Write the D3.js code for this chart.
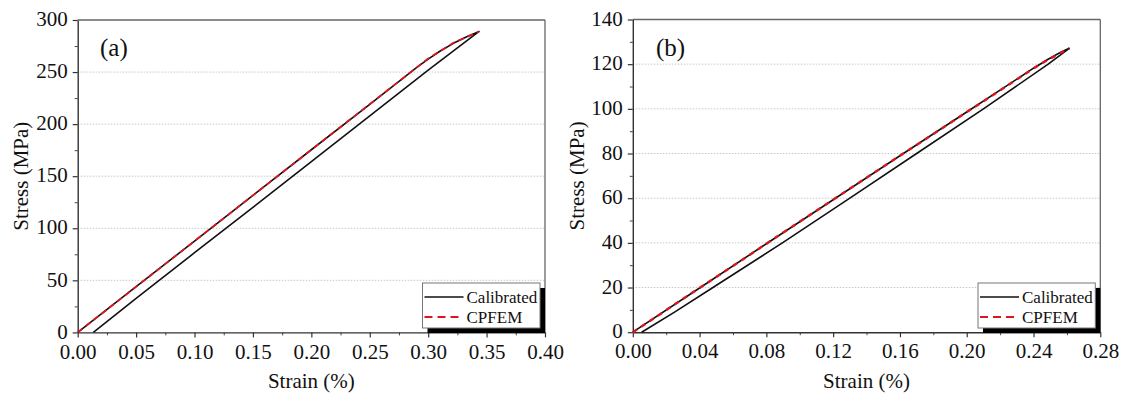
<!DOCTYPE html>
<html>
<head>
<meta charset="utf-8">
<script src="https://cdn.jsdelivr.net/npm/d3@7"></script>
<style>
  html, body { margin: 0; padding: 0; background: #fff; }
  svg { display: block; }
  svg text { font-family: "Liberation Serif", "Times New Roman", serif !important; fill: #111; }
</style>
</head>
<body>
<svg id="chart" width="1123" height="396"></svg>
<script>
// ---------- data ----------
const seriesNames = ["Calibrated", "CPFEM"];
const panelLabels = ["(a)", "(b)"];
const xTicksA = [0, 0.05, 0.10, 0.15, 0.20, 0.25, 0.30, 0.35, 0.40];
const yTicksA = [0, 50, 100, 150, 200, 250, 300];
const xTicksB = [0, 0.04, 0.08, 0.12, 0.16, 0.20, 0.24, 0.28];
const yTicksB = [0, 20, 40, 60, 80, 100, 120, 140];

// Panel (a): strain (%), stress (MPa)
const calibratedA = [
  [0, 0], [0.05, 43.9], [0.10, 87.7], [0.15, 131.6], [0.20, 175.4], [0.25, 219],
  [0.29, 254.3], [0.30, 262.5], [0.31, 270], [0.3216, 277.6], [0.333, 284], [0.3436, 289],
  [0.30, 251.9], [0.25, 208], [0.20, 164], [0.15, 120], [0.10, 76.5], [0.05, 32.6], [0.0134, 0]
];
const cpfemA = [
  [0, 0], [0.10, 87.7], [0.20, 175.4], [0.30, 263], [0.3216, 278], [0.3436, 289]
];

// Panel (b)
const calibratedB = [
  [0, 0], [0.04, 19.8], [0.08, 39.6], [0.12, 59.3], [0.16, 79], [0.20, 98.6], [0.24, 118.2],
  [0.249, 122.3], [0.256, 125.2], [0.2614, 127.1],
  [0.2488, 120], [0.21, 100], [0.170, 80], [0.130, 60], [0.0896, 40], [0.048, 20], [0.025, 9], [0.0053, 0]
];
const cpfemB = [
  [0, 0], [0.08, 39.6], [0.16, 79], [0.244, 120], [0.2614, 127.1]
];

// ---------- drawing ----------
const svg = d3.select("#chart");
const SERIF = '"Liberation Serif", "Times New Roman", serif';

function drawPanel(cfg) {
  const x = d3.scaleLinear().domain(cfg.xDomain).range([cfg.left, cfg.right]);
  const y = d3.scaleLinear().domain(cfg.yDomain).range([cfg.bottom, cfg.top]);
  const g = svg.append("g");

  // gridlines
  g.append("g").selectAll("line")
    .data(cfg.yTicks.filter(v => v > cfg.yDomain[0] && v < cfg.yDomain[1]))
    .join("line")
    .attr("x1", cfg.left).attr("x2", cfg.right)
    .attr("y1", d => y(d)).attr("y2", d => y(d))
    .attr("stroke", "#c8c8c8").attr("stroke-width", 1)
    .attr("stroke-dasharray", "1.5,1.5");

  // frame (top / right)
  g.append("line").attr("x1", cfg.left).attr("x2", cfg.right)
    .attr("y1", cfg.top).attr("y2", cfg.top).attr("stroke", "#666").attr("stroke-width", 1.3);
  g.append("line").attr("x1", cfg.right).attr("x2", cfg.right)
    .attr("y1", cfg.top).attr("y2", cfg.bottom).attr("stroke", "#666").attr("stroke-width", 1.3);

  // minor ticks
  const xMinor = [];
  for (let i = 0; i < cfg.xTicks.length - 1; i++) xMinor.push((cfg.xTicks[i] + cfg.xTicks[i + 1]) / 2);
  const yMinor = [];
  for (let i = 0; i < cfg.yTicks.length - 1; i++) yMinor.push((cfg.yTicks[i] + cfg.yTicks[i + 1]) / 2);

  const xAxisMinor = d3.axisBottom(x).tickValues(xMinor).tickSize(3).tickFormat("");
  const yAxisMinor = d3.axisLeft(y).tickValues(yMinor).tickSize(3).tickFormat("");
  g.append("g").attr("transform", `translate(0,${cfg.bottom})`).call(xAxisMinor)
    .call(s => s.select(".domain").remove())
    .selectAll("line").attr("stroke", "#444");
  g.append("g").attr("transform", `translate(${cfg.left},0)`).call(yAxisMinor)
    .call(s => s.select(".domain").remove())
    .selectAll("line").attr("stroke", "#444");

  // major axes
  const xAxis = d3.axisBottom(x).tickValues(cfg.xTicks).tickSize(5).tickPadding(7)
    .tickSizeOuter(0).tickFormat(d3.format(".2f"));
  const yAxis = d3.axisLeft(y).tickValues(cfg.yTicks).tickSize(5).tickPadding(5)
    .tickSizeOuter(0).tickFormat(d3.format("d"));
  const gx = g.append("g").attr("transform", `translate(0,${cfg.bottom})`).call(xAxis);
  const gy = g.append("g").attr("transform", `translate(${cfg.left},0)`).call(yAxis);
  [gx, gy].forEach(a => {
    a.attr("font-family", SERIF).attr("font-size", 21);
    a.select(".domain").attr("stroke", "#333").attr("stroke-width", 1.4);
    a.selectAll(".tick line").attr("stroke", "#333").attr("stroke-width", 1.2);
    a.selectAll(".tick text").attr("font-size", 21).attr("fill", "#111")
      .attr("font-family", SERIF);
  });
  gy.selectAll(".tick text").attr("dy", "0.27em");
  gx.selectAll(".tick text").attr("dy", "0.68em");

  // axis titles
  g.append("text").attr("x", (cfg.left + cfg.right) / 2).attr("y", 388)
    .attr("text-anchor", "middle").attr("font-family", SERIF).attr("font-size", 21).text("Strain (%)");
  g.append("text")
    .attr("transform", `translate(${cfg.yTitleX},${(cfg.top + cfg.bottom) / 2}) rotate(-90)`)
    .attr("text-anchor", "middle").attr("font-family", SERIF).attr("font-size", 21).text("Stress (MPa)");

  // panel label
  g.append("text").attr("x", cfg.labelX).attr("y", 56)
    .attr("font-family", SERIF).attr("font-size", 25).text(cfg.label);

  // lines
  const line = d3.line().x(d => x(d[0])).y(d => y(d[1]));
  g.append("path").datum(cfg.calibrated).attr("d", line)
    .attr("fill", "none").attr("stroke", "#111").attr("stroke-width", 1.6)
    .attr("stroke-linejoin", "round");
  g.append("path").datum(cfg.cpfem).attr("d", line)
    .attr("fill", "none").attr("stroke", "#e0141e").attr("stroke-width", cfg.redWidth)
    .attr("stroke-dasharray", cfg.redDash);

  // legend
  const lg = g.append("g");
  const lx = cfg.legendX, ly = 283, lw = cfg.right - cfg.legendX - 5, lh = 45;
  lg.append("rect").attr("x", lx + 5).attr("y", ly + 5).attr("width", lw).attr("height", lh)
    .attr("fill", "#000");
  lg.append("rect").attr("x", lx).attr("y", ly).attr("width", lw).attr("height", lh)
    .attr("fill", "#fff").attr("stroke", "#777").attr("stroke-width", 1);
  lg.append("line").attr("x1", lx + 2).attr("x2", lx + 41).attr("y1", ly + 14).attr("y2", ly + 14)
    .attr("stroke", "#111").attr("stroke-width", 1.6);
  lg.append("line").attr("x1", lx + 2).attr("x2", lx + 41).attr("y1", ly + 34).attr("y2", ly + 34)
    .attr("stroke", "#e0141e").attr("stroke-width", 2).attr("stroke-dasharray", "8,5");
  lg.append("text").attr("x", lx + 44).attr("y", ly + 20).attr("font-family", SERIF)
    .attr("font-size", 17).text(seriesNames[0]);
  lg.append("text").attr("x", lx + 44).attr("y", ly + 40).attr("font-family", SERIF)
    .attr("font-size", 17).text(seriesNames[1]);
}

drawPanel({
  left: 77.7, right: 545, top: 20, bottom: 332.4,
  xDomain: [0, 0.40], yDomain: [0, 300],
  xTicks: xTicksA, yTicks: yTicksA,
  yTitleX: 28, labelX: 100, label: panelLabels[0],
  calibrated: calibratedA, cpfem: cpfemA,
  redDash: "6,4", redWidth: 1.8,
  legendX: 422.5
});

drawPanel({
  left: 632.8, right: 1100.3, top: 19.5, bottom: 332.2,
  xDomain: [0, 0.28], yDomain: [0, 140],
  xTicks: xTicksB, yTicks: yTicksB,
  yTitleX: 584, labelX: 656, label: panelLabels[1],
  calibrated: calibratedB, cpfem: cpfemB,
  redDash: "5,5", redWidth: 2.4,
  legendX: 978
});
</script>
</body>
</html>
